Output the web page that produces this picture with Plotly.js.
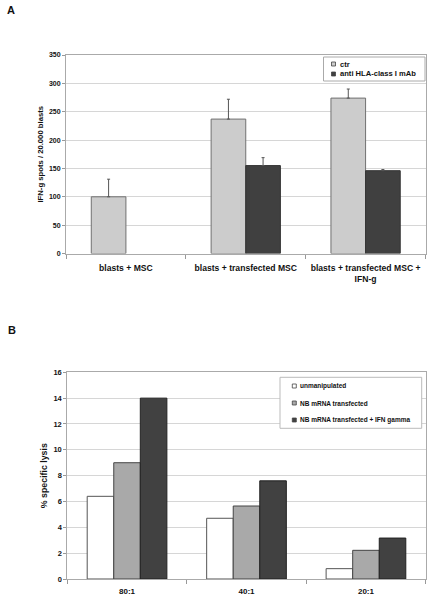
<!DOCTYPE html>
<html><head><meta charset="utf-8">
<script src="https://cdn.plot.ly/plotly-3.0.1.min.js"></script>
<style>html,body{margin:0;padding:0;background:#fff}#chart{width:430px;height:600px}</style>
</head><body><div id="chart"></div>
<script>
// ---- Panel A data ----
const catsA = ["blasts + MSC", "blasts + transfected MSC", "blasts + transfected MSC +<br>IFN-g"];
const ctrVals = [100, 237, 274];
const ctrErr = [31, 35, 16];
const antiVals = [null, 155, 146];
const antiErr = [0, 14, 2];
const seriesA = ["ctr", "anti HLA-class I mAb"];
const yTicksA = [0, 50, 100, 150, 200, 250, 300, 350];

// ---- Panel B data ----
const catsB = ["80:1", "40:1", "20:1"];
const unmanipVals = [6.4, 4.7, 0.8];
const nbVals = [9.0, 5.65, 2.22];
const nbIfnVals = [14.0, 7.6, 3.17];
const seriesB = ["unmanipulated", "NB mRNA transfected", "NB mRNA transfected + IFN gamma"];
const yTicksB = [0, 2, 4, 6, 8, 10, 12, 14, 16];

const W = 430, H = 600;
const px = x => x / W, py = y => 1 - y / H;
const FONT = "Liberation Sans, Arial, sans-serif";
const TXT = "#111";

const colA = ["#cccccc", "#404040"];
const colB = ["#ffffff", "#a9a9a9", "#414141"];
const outline = "#555";

const wA = 0.289;
const traces = [
  {type: "bar", name: seriesA[0], x: catsA, y: ctrVals, xaxis: "x", yaxis: "y",
   width: wA, offset: -wA, showlegend: false,
   marker: {color: colA[0], line: {color: "#707070", width: 1}},
   error_y: {type: "data", symmetric: false, array: ctrErr, arrayminus: [0,0,0], color: "#555", thickness: 1, width: 1.5}},
  {type: "bar", name: seriesA[1], x: catsA, y: antiVals, xaxis: "x", yaxis: "y",
   width: wA, offset: 0, showlegend: false,
   marker: {color: colA[1], line: {color: "#333", width: 1}},
   error_y: {type: "data", symmetric: false, array: antiErr, arrayminus: [0,0,0], color: "#555", thickness: 1, width: 1.5}},
  {type: "bar", name: seriesB[0], x: catsB, y: unmanipVals, xaxis: "x2", yaxis: "y2", showlegend: false,
   marker: {color: colB[0], line: {color: outline, width: 1}}},
  {type: "bar", name: seriesB[1], x: catsB, y: nbVals, xaxis: "x2", yaxis: "y2", showlegend: false,
   marker: {color: colB[1], line: {color: "#444", width: 1}}},
  {type: "bar", name: seriesB[2], x: catsB, y: nbIfnVals, xaxis: "x2", yaxis: "y2", showlegend: false,
   marker: {color: colB[2], line: {color: "#222", width: 1}}}
];

const axisCommonX = {
  type: "category", tickson: "boundaries", ticks: "outside", ticklen: 4, tickcolor: "#999",
  showline: true, linecolor: "#aaa", linewidth: 1, mirror: true, showgrid: false,
  fixedrange: true, automargin: false
};
const axisCommonY = {
  ticks: "outside", ticklen: 3, tickcolor: "#999", showline: true, linecolor: "#aaa", linewidth: 1,
  mirror: true, gridcolor: "#d6d6d6", gridwidth: 1, zeroline: false, fixedrange: true, automargin: false
};

const shapes = [];
const annotations = [
  {text: "A", x: px(11), y: py(10), xref: "paper", yref: "paper", xanchor: "center", yanchor: "middle",
   showarrow: false, font: {family: FONT, size: 11, weight: "bold", color: TXT}},
  {text: "B", x: px(11.5), y: py(330), xref: "paper", yref: "paper", xanchor: "center", yanchor: "middle",
   showarrow: false, font: {family: FONT, size: 11, weight: "bold", color: TXT}}
];

// Legend A (box + swatches + labels)
shapes.push({type: "rect", xref: "paper", yref: "paper", x0: px(323.5), x1: px(425), y0: py(81), y1: py(57),
  line: {color: "#aaa", width: 1}, fillcolor: "#fff", layer: "above"});
const rowsA = [64, 74];
seriesA.forEach((name, i) => {
  shapes.push({type: "rect", xref: "paper", yref: "paper", x0: px(331.5), x1: px(335.5),
    y0: py(rowsA[i] + 2), y1: py(rowsA[i] - 2), fillcolor: colA[i], line: {color: "#444", width: 0.8}, layer: "above"});
  annotations.push({text: name, x: px(338), y: py(rowsA[i]), xref: "paper", yref: "paper",
    xanchor: "left", yanchor: "middle", showarrow: false,
    font: {family: FONT, size: 7.6, weight: "bold", color: TXT}});
});

// Legend B
shapes.push({type: "rect", xref: "paper", yref: "paper", x0: px(280), x1: px(421.7), y0: py(428.3), y1: py(377.3),
  line: {color: "#bbb", width: 1}, fillcolor: "#fff", layer: "above"});
const rowsB = [386, 403, 420];
seriesB.forEach((name, i) => {
  shapes.push({type: "rect", xref: "paper", yref: "paper", x0: px(292.3), x1: px(296.3),
    y0: py(rowsB[i] + 2), y1: py(rowsB[i] - 2), fillcolor: colB[i], line: {color: "#444", width: 0.8}, layer: "above"});
  annotations.push({text: name, x: px(297.8), y: py(rowsB[i]), xref: "paper", yref: "paper",
    xanchor: "left", yanchor: "middle", showarrow: false,
    font: {family: FONT, size: 6.5, weight: "bold", color: TXT}});
});

const layout = {
  width: W, height: H, margin: {l: 0, r: 0, t: 0, b: 0},
  paper_bgcolor: "#fff", plot_bgcolor: "#fff", showlegend: false,
  barmode: "group", bargap: 0.333, bargroupgap: 0,
  font: {family: FONT, color: TXT},
  xaxis: Object.assign({}, axisCommonX, {domain: [px(66), px(425.5)], anchor: "y", ticklabelstandoff: 6,
    tickfont: {family: FONT, size: 8.6, weight: "bold", color: TXT}}),
  yaxis: Object.assign({}, axisCommonY, {domain: [py(253.5), py(55)], anchor: "x", range: [0, 350],
    tickvals: yTicksA, tickfont: {family: FONT, size: 7, weight: "bold", color: TXT},
    title: {text: "IFN-g spots / 20.000 blasts", standoff: 4, font: {family: FONT, size: 7.7, weight: "bold", color: TXT}}}),
  xaxis2: Object.assign({}, axisCommonX, {domain: [px(67.3), px(425.7)], anchor: "y2", ticklabelstandoff: 4,
    tickfont: {family: FONT, size: 8, weight: "bold", color: TXT}}),
  yaxis2: Object.assign({}, axisCommonY, {domain: [py(579), py(372.3)], anchor: "x2", range: [0, 16],
    tickvals: yTicksB, tickfont: {family: FONT, size: 7.5, weight: "bold", color: TXT},
    title: {text: "% specific lysis", standoff: 4, font: {family: FONT, size: 8.8, weight: "bold", color: TXT}}}),
  shapes: shapes,
  annotations: annotations
};

Plotly.newPlot("chart", traces, layout, {staticPlot: true, displayModeBar: false});
</script>
</body></html>
